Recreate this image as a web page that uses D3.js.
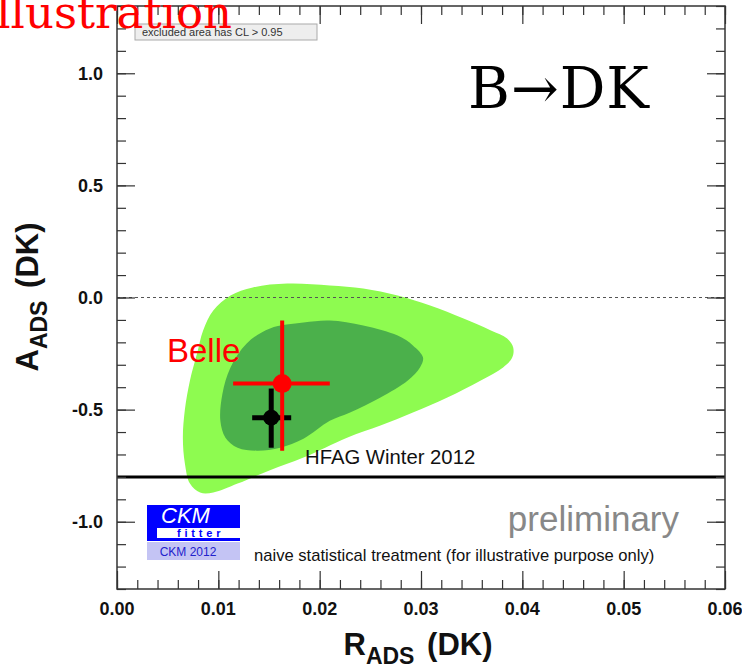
<!DOCTYPE html>
<html>
<head>
<meta charset="UTF-8">
<style>
  body { margin: 0; background: white; }
  svg { display: block; font-family: "Liberation Sans", Arial, sans-serif; }
</style>
</head>
<body>
<svg width="742" height="672"></svg>
<script src="https://d3js.org/d3.v7.min.js"></script>
<script>
// ---- data ----
const xTickValues = [0, 0.01, 0.02, 0.03, 0.04, 0.05, 0.06];
const yTickValues = [-1.0, -0.5, 0.0, 0.5, 1.0];

// 95% CL region (light green), [R_ADS, A_ADS]
const outerContour = [
  [0.0168, 0.062], [0.0134, 0.045], [0.0112, 0.009], [0.0095, -0.058], [0.0085, -0.147],
  [0.0079, -0.25], [0.0072, -0.37], [0.0067, -0.50], [0.0065, -0.625], [0.0067, -0.74],
  [0.0072, -0.83], [0.0082, -0.87], [0.0095, -0.87], [0.0119, -0.83], [0.0151, -0.77],
  [0.0184, -0.714], [0.0227, -0.625], [0.0260, -0.571], [0.0292, -0.513], [0.0326, -0.446],
  [0.0359, -0.37], [0.0381, -0.312], [0.0390, -0.268], [0.0391, -0.223], [0.0385, -0.183],
  [0.0369, -0.147], [0.0342, -0.094], [0.0309, -0.036], [0.0277, 0.009], [0.0243, 0.040],
  [0.0210, 0.054]
];
// 68% CL region (dark green)
const innerContour = [
  [0.0184, -0.112], [0.0151, -0.138], [0.0128, -0.205], [0.0112, -0.312], [0.0104, -0.43],
  [0.0102, -0.55], [0.0107, -0.625], [0.0119, -0.67], [0.0138, -0.683], [0.0161, -0.67],
  [0.0184, -0.63], [0.0210, -0.55], [0.0230, -0.513], [0.0260, -0.446], [0.0287, -0.37],
  [0.0299, -0.312], [0.0302, -0.268], [0.0292, -0.214], [0.0277, -0.17], [0.0243, -0.125],
  [0.0210, -0.103]
];

// measurements: value and error bar ends
const belle = { x: 0.0163, y: -0.384, xLo: 0.01146, xHi: 0.0210, yLo: -0.683, yHi: -0.103 };
const hfag  = { x: 0.01522, y: -0.536, xLo: 0.01334, xHi: 0.01719, yLo: -0.67, yHi: -0.406 };
const hfagLine = -0.8;

// ---- chart ----
const svg = d3.select("svg");
const pLeft = 117, pRight = 725, pTop = 6, pBottom = 589;

const x = d3.scaleLinear().domain([0, 0.06]).range([pLeft, pRight]);
const y = d3.scaleLinear().domain([-1.3, 1.3]).range([pBottom, pTop]);

const line = d3.line().x(d => x(d[0])).y(d => y(d[1])).curve(d3.curveCatmullRomClosed);

const plot = svg.append("g");
plot.append("path").attr("d", line(outerContour)).attr("fill", "#8efb50");
plot.append("path").attr("d", line(innerContour)).attr("fill", "#4bb04b");

// zero line
plot.append("line")
  .attr("x1", x(0)).attr("x2", x(0.06)).attr("y1", y(0)).attr("y2", y(0))
  .attr("stroke", "#555").attr("stroke-width", 1).attr("stroke-dasharray", "3,3");

// HFAG line
plot.append("line")
  .attr("x1", x(0)).attr("x2", x(0.06)).attr("y1", y(hfagLine)).attr("y2", y(hfagLine))
  .attr("stroke", "black").attr("stroke-width", 3);

function point(p, color, r, w) {
  const g = plot.append("g").attr("stroke", color).attr("stroke-width", w);
  g.append("line").attr("x1", x(p.xLo)).attr("x2", x(p.xHi)).attr("y1", y(p.y)).attr("y2", y(p.y));
  g.append("line").attr("x1", x(p.x)).attr("x2", x(p.x)).attr("y1", y(p.yLo)).attr("y2", y(p.yHi));
  g.append("circle").attr("cx", x(p.x)).attr("cy", y(p.y)).attr("r", r).attr("fill", color).attr("stroke", "none");
}
point(hfag, "black", 8, 5);
point(belle, "red", 9.5, 4);

// texts inside the plot
svg.append("text").attr("x", 167).attr("y", 362).attr("fill", "red")
  .attr("font-size", 33).text("Belle");
svg.append("text").attr("x", 305).attr("y", 464).attr("fill", "#111")
  .attr("font-size", 20.3).text("HFAG Winter 2012");
svg.append("text").attr("x", 679).attr("y", 531).attr("fill", "#888").attr("text-anchor", "end")
  .attr("font-size", 35).text("preliminary");
svg.append("text").attr("x", 254).attr("y", 561).attr("fill", "#111")
  .attr("font-size", 16.6).text("naive statistical treatment (for illustrative purpose only)");
svg.append("text").attr("x", 468).attr("y", 108).attr("fill", "black")
  .attr("font-family", "DejaVu Serif").attr("font-size", 57).attr("letter-spacing", 1).text("B\u2192DK");

// CL box
svg.append("rect").attr("x", 135).attr("y", 24).attr("width", 182).attr("height", 16)
  .attr("fill", "#eee").attr("stroke", "#aaa");
svg.append("text").attr("x", 142).attr("y", 36).attr("font-size", 11).attr("fill", "#333")
  .text("excluded area has CL > 0.95");

// CKMfitter logo
const logo = svg.append("g");
logo.append("rect").attr("x", 147).attr("y", 505).attr("width", 93).attr("height", 36).attr("fill", "#0000ff");
logo.append("rect").attr("x", 157).attr("y", 528).attr("width", 83).attr("height", 10).attr("fill", "white");
logo.append("text").attr("x", 161).attr("y", 523).attr("fill", "white").attr("font-style", "italic")
  .attr("font-size", 22).text("CKM");
logo.append("text").attr("x", 177).attr("y", 537).attr("fill", "#0000ff").attr("font-weight", "bold")
  .attr("font-size", 11).attr("letter-spacing", 3.8).text("fitter");
logo.append("rect").attr("x", 147).attr("y", 542).attr("width", 93).attr("height", 18).attr("fill", "#c4c4f4");
logo.append("text").attr("x", 188).attr("y", 556).attr("fill", "#2222cc").attr("text-anchor", "middle")
  .attr("font-size", 12).text("CKM 2012");

// axes: ticks point inwards on all four sides
const minorX = d3.range(0, 0.0601, 0.002);
const minorY = d3.range(-1.3, 1.301, 0.1);
function axis(gen, transform) {
  svg.append("g").attr("transform", transform).call(gen)
    .call(g => g.select(".domain").remove())
    .call(g => g.selectAll("line").attr("stroke", "#333").attr("stroke-width", 1.2));
}
axis(d3.axisBottom(x).tickValues(minorX).tickSize(-9).tickFormat(""), `translate(0,${pBottom})`);
axis(d3.axisBottom(x).tickValues(xTickValues).tickSize(-18).tickFormat(""), `translate(0,${pBottom})`);
axis(d3.axisTop(x).tickValues(minorX).tickSize(-9).tickFormat(""), `translate(0,${pTop})`);
axis(d3.axisTop(x).tickValues(xTickValues).tickSize(-18).tickFormat(""), `translate(0,${pTop})`);
axis(d3.axisLeft(y).tickValues(minorY).tickSize(-9).tickFormat(""), `translate(${pLeft},0)`);
axis(d3.axisLeft(y).tickValues(yTickValues).tickSize(-18).tickFormat(""), `translate(${pLeft},0)`);
axis(d3.axisRight(y).tickValues(minorY).tickSize(-9).tickFormat(""), `translate(${pRight},0)`);
axis(d3.axisRight(y).tickValues(yTickValues).tickSize(-18).tickFormat(""), `translate(${pRight},0)`);

svg.append("rect").attr("x", pLeft).attr("y", pTop).attr("width", pRight - pLeft).attr("height", pBottom - pTop)
  .attr("fill", "none").attr("stroke", "#333").attr("stroke-width", 1.5);

// tick labels (plain hyphen for negatives, as in the original)
const fmtX = d => d.toFixed(2), fmtY = d => d.toFixed(1);
svg.append("g").selectAll("text").data(xTickValues).join("text")
  .attr("x", d => x(d)).attr("y", 615).attr("text-anchor", "middle")
  .attr("font-size", 18).attr("font-weight", "bold").attr("fill", "#111")
  .text(fmtX);
svg.append("g").selectAll("text").data(yTickValues).join("text")
  .attr("x", 103).attr("y", d => y(d) + 6.5).attr("text-anchor", "end")
  .attr("font-size", 18).attr("font-weight", "bold").attr("fill", "#111")
  .text(fmtY);

// axis titles
function title(main, transform) {
  const tx = svg.append("text").attr("transform", transform).attr("text-anchor", "middle")
    .attr("font-size", 31).attr("font-weight", "bold").attr("fill", "#111");
  tx.append("tspan").text(main);
  tx.append("tspan").attr("font-size", 23).attr("dy", 9).text("ADS");
  tx.append("tspan").attr("dy", -9).attr("dx", 4).text(" (DK)");
}
title("R", "translate(418,655)");
title("A", "translate(38,297) rotate(-90)");

// watermark
svg.append("text").attr("x", 232).attr("y", 28).attr("text-anchor", "end").attr("fill", "red")
  .attr("font-family", "DejaVu Serif").attr("font-size", 45).text("Illustration");
</script>
</body>
</html>
